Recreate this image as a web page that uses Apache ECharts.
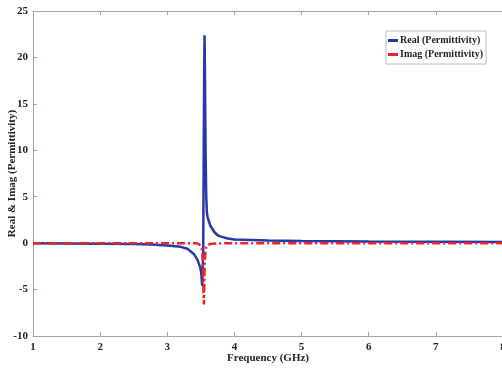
<!DOCTYPE html>
<html>
<head>
<meta charset="utf-8">
<script src="https://cdn.jsdelivr.net/npm/echarts@6/dist/echarts.min.js"></script>
<style>
  html, body { margin: 0; padding: 0; background: #fff; }
  #chart { width: 502px; height: 371px; }
</style>
</head>
<body>
<div id="chart"></div>
<script>
// frequency samples (GHz), denser around the resonance
const freq = [1, 1.5, 2, 2.5, 2.75, 3, 3.2, 3.3, 3.35, 3.4,
  3.45, 3.48, 3.5, 3.51, 3.52, 3.53, 3.535, 3.54, 3.545, 3.55,
  3.555, 3.56, 3.57, 3.58, 3.59, 3.6, 3.64, 3.7, 3.75, 3.8,
  3.9, 4, 4.5, 5, 6, 7, 8];

const realVals = [-0.02, -0.04, -0.06, -0.1, -0.15, -0.25, -0.4, -0.6, -0.9, -1.2,
  -1.8, -2.4, -2.9, -3.6, -4.6, -4.7, -1, 6, 13, 19,
  22.4, 19, 10, 5, 3.3, 2.8, 1.9, 1.2, 0.85, 0.7,
  0.5, 0.4, 0.28, 0.22, 0.17, 0.14, 0.12];

const imagVals = [0, 0, 0, 0, 0, 0, 0, 0, 0, 0,
  -0.05, -0.15, -0.3, -0.5, -0.9, -2, -3.5, -5.5, -6.6, -5,
  -3, -1.8, -0.8, -0.45, -0.3, -0.2, -0.1, -0.05, -0.03, -0.02,
  0, 0, 0, 0, 0, 0, 0];

const seriesNames = ['Real (Permittivity)', 'Imag (Permittivity)'];

const font = 'Liberation Serif, Times New Roman, serif';
const axisColor = '#9ea6bb';

const chart = echarts.init(document.getElementById('chart'));

const baseAxis = {
  type: 'value',
  axisLine: { show: true, onZero: false, lineStyle: { color: axisColor, width: 1 } },
  axisTick: { show: true, inside: true, length: 4, lineStyle: { color: axisColor } },
  splitLine: { show: false },
};

chart.setOption({
  animation: false,
  grid: { left: 33, right: -1, top: 11, bottom: 35, containLabel: false, outerBoundsMode: 'none' },
  legend: {
    data: seriesNames.map((n, i) => ({
      name: n,
      icon: 'rect',
      itemStyle: { color: i === 0 ? '#2b36a8' : '#e8262a' },
    })),
    orient: 'vertical',
    left: 386,
    top: 31,
    padding: [3, 3, 3, 2],
    itemGap: 1,
    itemWidth: 10,
    itemHeight: 3,
    borderColor: '#b8bccb',
    borderWidth: 1,
    textStyle: { fontFamily: font, fontWeight: 'bold', fontSize: 10, lineHeight: 13, color: '#1e1e2a', padding: [0, 0, 0, -3] },
  },
  xAxis: [
    {
      ...baseAxis,
      min: 1, max: 8, interval: 1,
      name: 'Frequency (GHz)',
      nameLocation: 'middle',
      nameGap: 17,
      nameMoveOverlap: false,
      nameTextStyle: { fontFamily: font, fontWeight: 'bold', fontSize: 11, color: '#222' },
      axisLabel: { fontFamily: font, fontWeight: 'bold', fontSize: 11, color: '#222', margin: 6 },
    },
    {
      ...baseAxis,
      position: 'top',
      min: 1, max: 8, interval: 1,
      axisLabel: { show: false },
    },
  ],
  yAxis: {
    ...baseAxis,
    min: -10, max: 25, interval: 5,
    name: 'Real & Imag (Permittivity)',
    nameLocation: 'middle',
    nameGap: 15,
    nameMoveOverlap: false,
    nameTextStyle: { fontFamily: font, fontWeight: 'bold', fontSize: 11, color: '#222' },
    axisLabel: { fontFamily: font, fontWeight: 'bold', fontSize: 11, color: '#222', margin: 5 },
  },
  series: [
    {
      name: seriesNames[0],
      type: 'line',
      showSymbol: false,
      data: freq.map((f, i) => [f, realVals[i]]),
      lineStyle: { color: '#2b36a8', width: 2.5 },
      itemStyle: { color: '#2b36a8' },
    },
    {
      name: seriesNames[1],
      type: 'line',
      showSymbol: false,
      data: freq.map((f, i) => [f, imagVals[i]]),
      lineStyle: { color: '#e8262a', width: 2.5, type: [8, 3, 2, 3] },
      itemStyle: { color: '#e8262a' },
    },
  ],
});
</script>
</body>
</html>
